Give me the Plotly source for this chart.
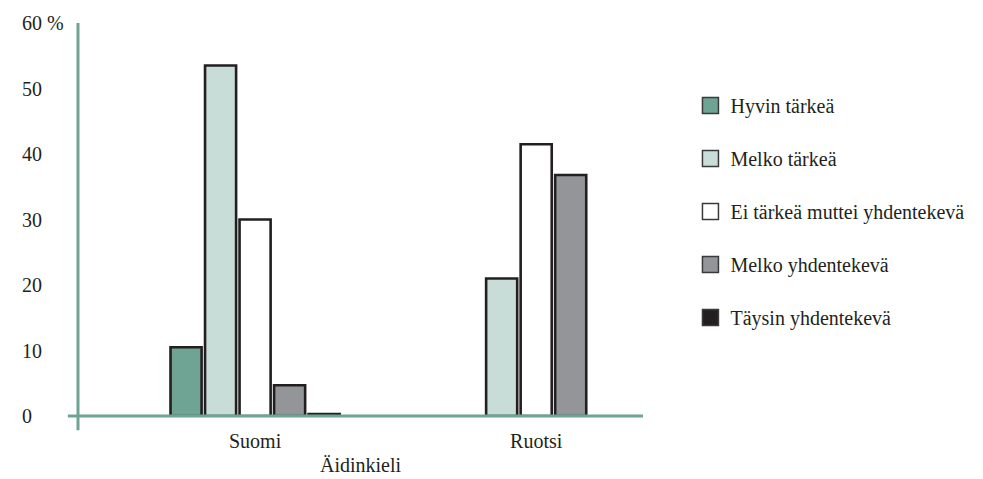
import plotly.graph_objects as go

categories = ["Suomi", "Ruotsi"]
series_names = ["Hyvin tärkeä", "Melko tärkeä", "Ei tärkeä muttei yhdentekevä",
                "Melko yhdentekevä", "Täysin yhdentekevä"]
hyvin_tarkea = [10.5, None]
melko_tarkea = [53.5, 21.0]
ei_tarkea = [30.0, 41.5]
melko_yhdentekeva = [4.7, 36.8]
taysin_yhdentekeva = [0.3, None]
series_values = [hyvin_tarkea, melko_tarkea, ei_tarkea, melko_yhdentekeva, taysin_yhdentekeva]
series_colors = ["#6fa393", "#c9ddd8", "#ffffff", "#939598", "#231f20"]
y_ticks = [0, 10, 20, 30, 40, 50, 60]
y_tick_labels = ["0", "10", "20", "30", "40", "50", "60 %"]
x_title = "Äidinkieli"

FONT = "Liberation Serif, Times New Roman, serif"
FS = 20
AXIS_COLOR = "#6fa393"
EDGE = "#231f20"

fig = go.Figure()
for name, vals, col in zip(series_names, series_values, series_colors):
    fig.add_trace(go.Bar(
        x=categories, y=vals, name=name,
        marker=dict(color=col, line=dict(color=EDGE, width=2.6)),
        legendgroup=name, showlegend=False,
    ))
# legend entries with larger square swatches
for name, col in zip(series_names, series_colors):
    fig.add_trace(go.Scatter(
        x=[None], y=[None], mode="markers", name=name, legendgroup=name,
        marker=dict(symbol="square", size=16, color=col, line=dict(color="#3a3a3a", width=1.5)),
    ))

# y tick labels, left aligned
for v, t in zip(y_ticks, y_tick_labels):
    fig.add_annotation(x=-0.103, xref="paper", y=v, yref="y", text=t,
                       showarrow=False, xanchor="left", yanchor="middle",
                       font=dict(family=FONT, size=FS, color="#231f20"))

# axis lines extending past the origin
fig.add_shape(type="line", xref="paper", yref="paper", x0=0, x1=0, y0=-0.036, y1=1,
              line=dict(color=AXIS_COLOR, width=3))
fig.add_shape(type="line", xref="paper", yref="paper", x0=-0.018, x1=1, y0=0, y1=0,
              line=dict(color=AXIS_COLOR, width=3))

fig.update_layout(
    width=975, height=471,
    margin=dict(l=70, r=340, t=15, b=63, autoexpand=False),
    paper_bgcolor="white", plot_bgcolor="white",
    barmode="group", bargap=0.386, bargroupgap=0.1,
    font=dict(family=FONT, size=FS, color="#231f20"),
    showlegend=True,
    legend=dict(x=1.084, xanchor="left", y=0.84, yanchor="top",
                tracegroupgap=24, font=dict(family=FONT, size=FS, color="#231f20"),
                bgcolor="rgba(0,0,0,0)"),
    xaxis=dict(range=[-0.63, 1.38], showline=False, showgrid=False, zeroline=False,
               automargin=False, ticks="", ticklabelstandoff=11,
               tickfont=dict(family=FONT, size=FS, color="#231f20"),
               title=dict(text=x_title, font=dict(family=FONT, size=FS, color="#231f20"),
                          standoff=6)),
    yaxis=dict(range=[0, 60], tickvals=y_ticks, showticklabels=False, showline=False,
               automargin=False, showgrid=False, zeroline=False, ticks=""),
)

fig.write_html("out.html")
